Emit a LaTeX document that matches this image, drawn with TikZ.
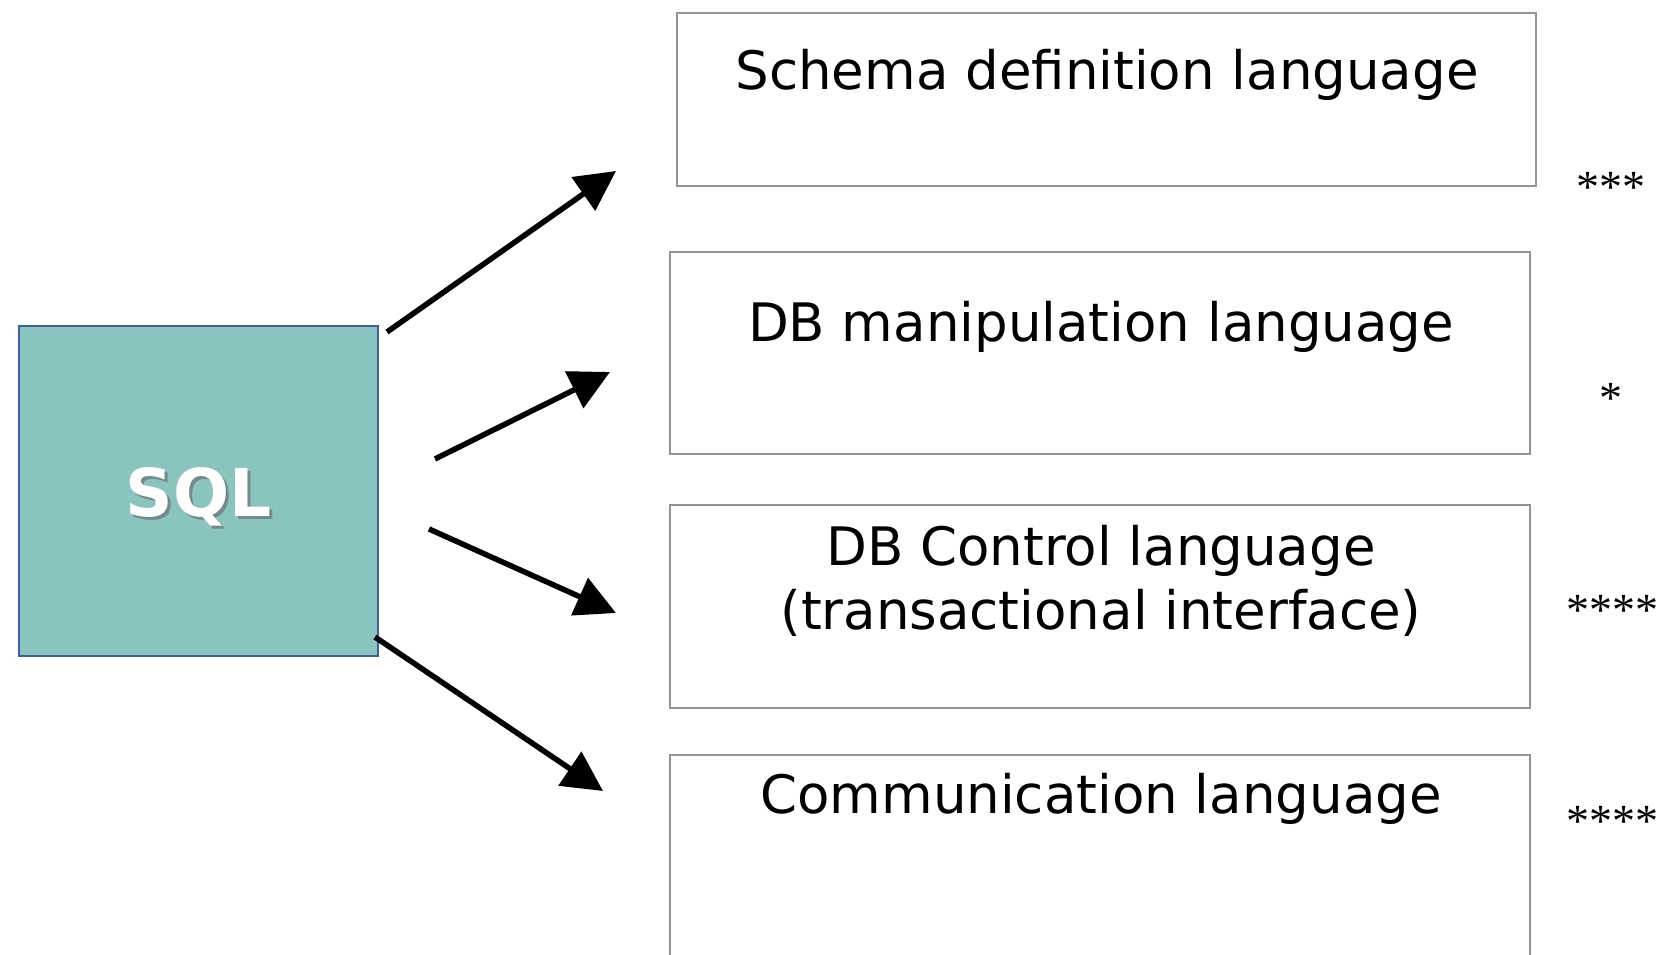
\documentclass[tikz,border=0pt]{standalone}
\usepackage{fontspec}
\setmainfont{DejaVu Sans}
\newfontfamily\starfont{Liberation Serif}
\usetikzlibrary{arrows.meta}
\tikzset{
  langbox/.style={draw=black!42, line width=2pt, fill=white, inner sep=0pt},
  langtext/.style={font=\fontsize{53}{64}\selectfont, align=center, inner sep=0pt},
  stars/.style={font=\starfont\fontsize{46}{50}\selectfont, inner sep=0pt},
  arr/.style={line width=5.5pt, -{Triangle[length=40pt,width=40pt]}},
}
\begin{document}
\begin{tikzpicture}[x=1pt,y=-1pt]
\useasboundingbox (0,0) rectangle (1658,955);
\clip (0,0) rectangle (1658,955);
% SQL box
\node[draw={rgb,255:red,63;green,95;blue,160}, line width=2pt, fill={rgb,255:red,138;green,196;blue,190},
      minimum width=359pt, minimum height=330pt, inner sep=0pt] (sql) at (198.5,491) {};
\node[font=\bfseries\fontsize{66}{70}\selectfont, text=black!60, opacity=0.6, inner sep=0pt] (sqlsh) at (201.5,500) {SQL};
\node[font=\bfseries\fontsize{66}{70}\selectfont, text=white, inner sep=0pt] (sqlt) at (198.5,497) {SQL};
% boxes
\node[langbox, minimum width=859pt, minimum height=173pt] (b1) at (1106.5,99.5) {};
\node[langbox, minimum width=860pt, minimum height=202pt] (b2) at (1100,353) {};
\node[langbox, minimum width=860pt, minimum height=203pt] (b3) at (1100,606.5) {};
\node[langbox, minimum width=860pt, minimum height=230pt] (b4) at (1100,870) {};
% texts
\node[langtext] (t1) at (1107,75) {Schema definition language};
\node[langtext] (t2) at (1101,327) {DB manipulation language};
\node[langtext] (t3) at (1101,581) {DB Control language\\(transactional interface)};
\node[langtext] (t4) at (1101,799) {Communication language};
% stars
\node[stars] (s1) at (1611,187) {***};
\node[stars] (s2) at (1611,398) {*};
\node[stars, anchor=east] (s3) at (1659,610) {****};
\node[stars, anchor=east] (s4) at (1659,821) {****};
% arrows
\coordinate (a1s) at (387,332); \coordinate (a1e) at (616,171);
\coordinate (a2s) at (435,459); \coordinate (a2e) at (610,372);
\coordinate (a3s) at (429,529); \coordinate (a3e) at (616,613);
\coordinate (a4s) at (375,637); \coordinate (a4e) at (603,791);
\draw[arr] (a1s) -- (a1e);
\draw[arr] (a2s) -- (a2e);
\draw[arr] (a3s) -- (a3e);
\draw[arr] (a4s) -- (a4e);
\end{tikzpicture}
\end{document}
